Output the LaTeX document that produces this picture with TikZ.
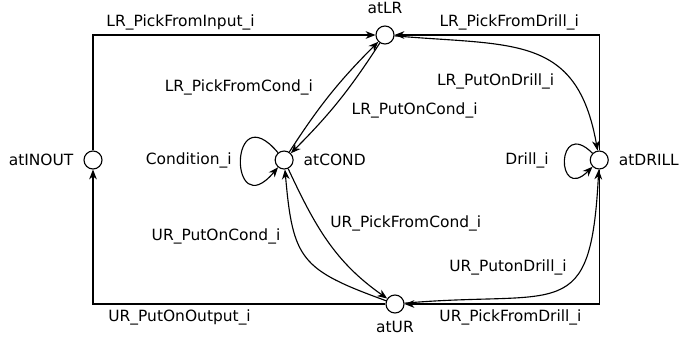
\documentclass[tikz,border=0pt]{standalone}
\usepackage{fontspec}
\setmainfont{DejaVu Sans}
\usetikzlibrary{arrows.meta, positioning}

\begin{document}
\begin{tikzpicture}[->, >={Stealth[length=7pt, width=5.5pt, inset=2.2pt]}, line width=0.8pt, font=\fontsize{11}{13}\selectfont]
        \tikzstyle{place} = [circle, draw, fill=white, minimum size=4.5mm, inner sep=0pt]
        \tikzstyle{near} = [label distance=0.12cm]

        \useasboundingbox (0,0) rectangle (17.425,-8.425);

        \node[place, label={[near]left:atINOUT}](inout) at (2.325,-4.0) {};
        \node[place, label={[near]right:atCOND}](cond) [right=4.3cm of inout] {};
        \node[place, label={[near]right:atDRILL}](drill) [right=7.4cm of cond] {};
        \node[place, label={[label distance=0.15cm]above:atLR}](lr) at (9.625,-0.875) {};
        \node[place, label={[label distance=0.06cm]below:atUR}](ur) at (9.875,-7.6) {};

        % outer frame
        \draw (inout) |- node[pos=0.655, above] {LR\_PickFromInput\_i} (lr);
        \draw (drill) |- node[pos=0.72, above] {LR\_PickFromDrill\_i} (lr);
        \draw (ur) -| node[pos=0.352, below] {UR\_PutOnOutput\_i} (inout);
        \draw (drill) |- node[pos=0.728, below] {UR\_PickFromDrill\_i} (ur);

        \path (cond) edge[bend left=6] node[pos=0.57, left=0.45cm] {LR\_PickFromCond\_i} (lr)
              (lr) edge[bend left=6] node[pos=0.6, right=0.4cm] {LR\_PutOnCond\_i} (cond)
              (ur) edge[out=160, in=-85, looseness=1.4] node[pos=0.67, left=0.25cm] {UR\_PutOnCond\_i} (cond)
              (cond) edge[out=-65, in=145] node[pos=0.36, right=0.22cm] {UR\_PickFromCond\_i} (ur)
              (lr) edge[out=-5, in=100, looseness=1.3] node[pos=0.65, anchor=north east] {LR\_PutOnDrill\_i} (drill)
              (ur) edge[out=5, in=-93, looseness=1.7] node[pos=0.6, anchor=south east] {UR\_PutonDrill\_i} (drill)
              (cond) edge[out=130, in=230, distance=1.925cm] node[left=0.1cm] {Condition\_i} (cond)
              (drill) edge[out=135, in=225, distance=1.3cm] node[left=0.275cm] {Drill\_i} (drill);
\end{tikzpicture}
\end{document}
